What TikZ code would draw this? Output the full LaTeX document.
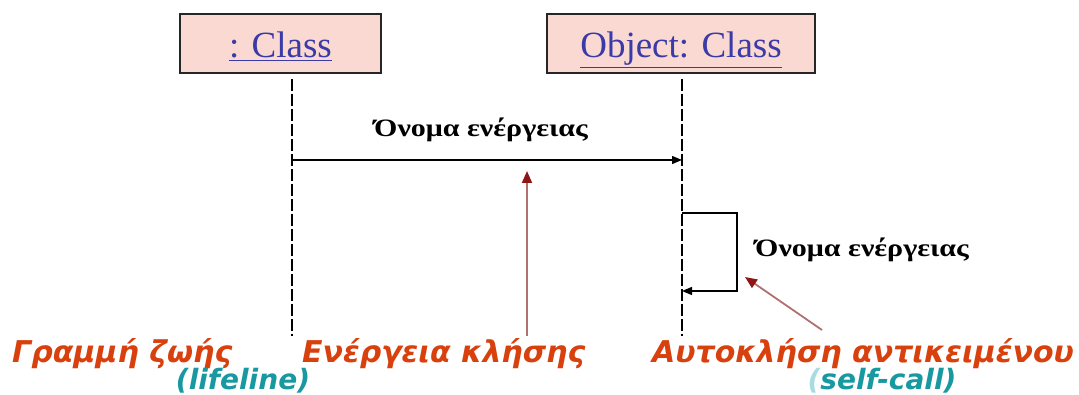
\documentclass[tikz,border=0pt]{standalone}
\usepackage{fontspec}
\setmainfont{Liberation Serif}
\newfontfamily\msgfont{Liberation Serif}[FakeStretch=1.2]
\newfontfamily\labfont{DejaVu Sans}
\usetikzlibrary{arrows.meta}
\definecolor{boxfill}{HTML}{FAD9D2}
\definecolor{classblue}{HTML}{3A3AA8}
\definecolor{labred}{HTML}{D8400E}
\definecolor{labteal}{HTML}{1898A0}
\definecolor{paleteal}{HTML}{A8DCE0}
\definecolor{pointshaft}{HTML}{B07070}
\definecolor{pointtip}{HTML}{8E1616}
\tikzset{
  objbox/.style={draw=black!85, line width=1.4pt, fill=boxfill, inner sep=0pt,
    minimum height=59pt, text height=30pt, text depth=1pt,
    font=\fontsize{37}{40}\selectfont, text=classblue},
  lifeline/.style={line width=1.3pt, dash pattern=on 12pt off 3pt},
  msg/.style={line width=1.3pt, -{Triangle[length=10pt,width=8pt]}},
  msglabel/.style={font=\msgfont\bfseries\fontsize{25}{28}\selectfont, inner sep=0pt},
  pointer/.style={draw=pointshaft, line width=1.8pt,
    -{Triangle[length=12pt,width=10pt,color=pointtip]}},
  caption/.style={font=\labfont\bfseries\itshape\fontsize{30}{34}\selectfont,
    text=labred, inner sep=0pt, anchor=base west},
  subcaption/.style={font=\labfont\bfseries\itshape\fontsize{28}{32}\selectfont,
    text=labteal, inner sep=0pt, anchor=base}
}
\begin{document}
\begin{tikzpicture}[x=1pt, y=-1pt]
  \useasboundingbox (0,0) rectangle (1079,395);

  % object boxes
  \node[objbox, minimum width=201pt] (cls) at (280.5,43.5)
    {\underline{: Class}};
  \node[objbox, minimum width=268pt] (obj) at (681,43.5)
    {\underline{Object: Class}};

  % lifelines
  \coordinate (l1top) at (292,79);
  \coordinate (l1bot) at (292,336);
  \coordinate (l2top) at (682,79);
  \coordinate (l2bot) at (682,336);
  \draw[lifeline] (l1top) -- (l1bot);
  \draw[lifeline] (l2top) -- (l2bot);

  % call message
  \coordinate (callsrc) at (292,160);
  \coordinate (calldst) at (682,160);
  \draw[msg] (callsrc) -- (calldst);
  \node[msglabel] (calllab) at (481,130) {Όνομα ενέργειας};

  % self-call loop
  \coordinate (selfout) at (682,213);
  \coordinate (selfback) at (682,291);
  \draw[msg] (selfout) -- (737,213) -- (737,291) -- (selfback);
  \node[msglabel, anchor=west] (selflab) at (755,250) {Όνομα ενέργειας};

  % captions
  \node[caption] (capline) at (12,362) {Γραμμή ζωής};
  \node[subcaption] (subline) at (243,389) {(lifeline)};
  \node[caption] (capcall) at (302,362) {Ενέργεια κλήσης};
  \node[caption] (capself) at (652,362) {Αυτοκλήση αντικειμένου};
  \node[subcaption] (subself) at (882,389) {{\color{paleteal}(}self-call)};

  % pointers from captions
  \coordinate (ptcall) at (527,336);
  \coordinate (tipcall) at (527,171);
  \draw[pointer] (ptcall) -- (tipcall);
  \coordinate (ptself) at (822,330);
  \coordinate (tipself) at (745,277);
  \draw[pointer] (ptself) -- (tipself);
\end{tikzpicture}
\end{document}
